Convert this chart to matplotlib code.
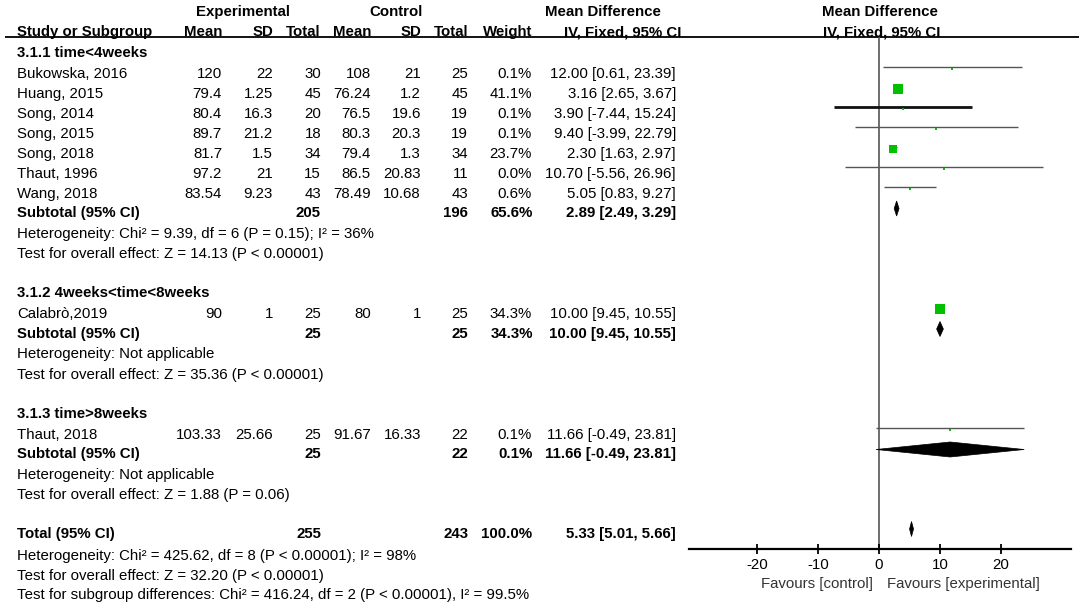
import matplotlib
matplotlib.use("Agg")
import matplotlib.pyplot as plt
import numpy as np

plt.rcParams['font.family'] = ['Liberation Sans', 'DejaVu Sans']

# ---------------- data ----------------
studies = ["Bukowska, 2016", "Huang, 2015", "Song, 2014", "Song, 2015", "Song, 2018",
           "Thaut, 1996", "Wang, 2018", "Calabrò,2019", "Thaut, 2018"]
exp_mean = ["120", "79.4", "80.4", "89.7", "81.7", "97.2", "83.54", "90", "103.33"]
exp_sd = ["22", "1.25", "16.3", "21.2", "1.5", "21", "9.23", "1", "25.66"]
exp_n = [30, 45, 20, 18, 34, 15, 43, 25, 25]
ctl_mean = ["108", "76.24", "76.5", "80.3", "79.4", "86.5", "78.49", "80", "91.67"]
ctl_sd = ["21", "1.2", "19.6", "20.3", "1.3", "20.83", "10.68", "1", "16.33"]
ctl_n = [25, 45, 19, 19, 34, 11, 43, 25, 22]
weight = [0.1, 41.1, 0.1, 0.1, 23.7, 0.0, 0.6, 34.3, 0.1]
md = [12.00, 3.16, 3.90, 9.40, 2.30, 10.70, 5.05, 10.00, 11.66]
ci_lo = [0.61, 2.65, -7.44, -3.99, 1.63, -5.56, 0.83, 9.45, -0.49]
ci_hi = [23.39, 3.67, 15.24, 22.79, 2.97, 26.96, 9.27, 10.55, 23.81]

subgroups = ["3.1.1 time<4weeks", "3.1.2 4weeks<time<8weeks", "3.1.3 time>8weeks"]
sub_exp_n = [205, 25, 25]
sub_ctl_n = [196, 25, 22]
sub_weight = [65.6, 34.3, 0.1]
sub_md = [2.89, 10.00, 11.66]
sub_lo = [2.49, 9.45, -0.49]
sub_hi = [3.29, 10.55, 23.81]
sub_het = ["Heterogeneity: Chi² = 9.39, df = 6 (P = 0.15); I² = 36%",
           "Heterogeneity: Not applicable",
           "Heterogeneity: Not applicable"]
sub_test = ["Test for overall effect: Z = 14.13 (P < 0.00001)",
            "Test for overall effect: Z = 35.36 (P < 0.00001)",
            "Test for overall effect: Z = 1.88 (P = 0.06)"]

total_exp_n = 255
total_ctl_n = 243
total_weight = 100.0
total_md = 5.33
total_lo = 5.01
total_hi = 5.66
total_notes = ["Heterogeneity: Chi² = 425.62, df = 8 (P < 0.00001); I² = 98%",
               "Test for overall effect: Z = 32.20 (P < 0.00001)",
               "Test for subgroup differences: Chi² = 416.24, df = 2 (P < 0.00001), I² = 99.5%"]

x_ticks = [-20, -10, 0, 10, 20]
favours = ["Favours [control]", "Favours [experimental]"]

# ---------------- layout (pixels) ----------------
W, H = 1084, 604
FS = 10.8
study_y = [72.7, 92.7, 112.7, 132.7, 152.7, 172.7, 192.7, 313, 433.5]
group_y = [51.5, 292, 412.5]
sub_y = [212, 332.5, 453]
het_y = [233, 353, 474]
test_y = [253, 373.5, 494]
total_y = 532.5
total_notes_y = [555, 574.5, 593.5]
ci_lw = [1, 1, 2, 1, 1, 1, 1, 1, 1]
ci_col = ['#555555', '#555555', '#111111', '#555555', '#555555', '#555555', '#555555', '#555555', '#555555']
X_NAME, X_EM, X_ESD, X_EN, X_CM, X_CSD, X_CN, X_W, X_CI = 17, 222, 273, 321, 371, 421, 468, 532, 676
GREEN = '#00c000'

fig = plt.figure(figsize=(W / 100, H / 100), dpi=100)
fig.patch.set_facecolor('white')
ax_t = fig.add_axes([0, 0, 1, 1])
ax_t.set_xlim(0, W)
ax_t.set_ylim(H, 0)
ax_t.axis('off')


def put(x, y, s, ha='left', bold=False, color='black'):
    ax_t.text(x, y + 5.4, s, ha=ha, va='baseline', fontsize=FS,
              fontweight='bold' if bold else 'normal', color=color)


# headers
put(243, 10.7, "Experimental", ha='center', bold=True)
put(396, 10.7, "Control", ha='center', bold=True)
put(603, 10.7, "Mean Difference", ha='center', bold=True)
put(880, 10.7, "Mean Difference", ha='center', bold=True)
put(X_NAME, 30.7, "Study or Subgroup", bold=True)
for x, s in [(X_EM, "Mean"), (X_ESD, "SD"), (X_EN, "Total"), (X_CM, "Mean"),
             (X_CSD, "SD"), (X_CN, "Total"), (X_W, "Weight"), (681, "IV, Fixed, 95% CI")]:
    put(x, 30.7, s, ha='right', bold=True)
put(882, 30.7, "IV, Fixed, 95% CI", ha='center', bold=True)
ax_t.plot([5, 1079], [37, 37], color='black', lw=1.3, solid_capstyle='butt')

# subgroup headers
for gy, g in zip(group_y, subgroups):
    put(X_NAME, gy, g, bold=True)

# study rows
for i, s in enumerate(studies):
    y = study_y[i]
    put(X_NAME, y, s)
    put(X_EM, y, exp_mean[i], ha='right')
    put(X_ESD, y, exp_sd[i], ha='right')
    put(X_EN, y, str(exp_n[i]), ha='right')
    put(X_CM, y, ctl_mean[i], ha='right')
    put(X_CSD, y, ctl_sd[i], ha='right')
    put(X_CN, y, str(ctl_n[i]), ha='right')
    put(X_W, y, f"{weight[i]:.1f}%", ha='right')
    put(X_CI, y, f"{md[i]:.2f} [{ci_lo[i]:.2f}, {ci_hi[i]:.2f}]", ha='right')

# subtotal rows
for k in range(3):
    y = sub_y[k]
    put(X_NAME, y, "Subtotal (95% CI)", bold=True)
    put(X_EN, y, str(sub_exp_n[k]), ha='right', bold=True)
    put(X_CN, y, str(sub_ctl_n[k]), ha='right', bold=True)
    put(X_W + 1, y, f"{sub_weight[k]:.1f}%", ha='right', bold=True)
    put(X_CI, y, f"{sub_md[k]:.2f} [{sub_lo[k]:.2f}, {sub_hi[k]:.2f}]", ha='right', bold=True)
    put(X_NAME, het_y[k], sub_het[k])
    put(X_NAME, test_y[k], sub_test[k])

# total
put(X_NAME, total_y, "Total (95% CI)", bold=True)
put(X_EN, total_y, str(total_exp_n), ha='right', bold=True)
put(X_CN, total_y, str(total_ctl_n), ha='right', bold=True)
put(X_W, total_y, f"{total_weight:.1f}%", ha='right', bold=True)
put(X_CI, total_y, f"{total_md:.2f} [{total_lo:.2f}, {total_hi:.2f}]", ha='right', bold=True)
for ny, s in zip(total_notes_y, total_notes):
    put(X_NAME, ny, s)

put(873, 583, favours[0], ha='right', color='#333333')
put(887, 583, favours[1], ha='left', color='#333333')

# ---------------- forest axes ----------------
AX_L, AX_R, AX_T, AX_B = 689, 1071, 37, 549
PX_PER_UNIT = 6.1
X0 = 879
ax_f = fig.add_axes([AX_L / W, 1 - AX_B / H, (AX_R - AX_L) / W, (AX_B - AX_T) / H])
ax_f.set_xlim((AX_L - X0) / PX_PER_UNIT, (AX_R - X0) / PX_PER_UNIT)
ax_f.set_ylim(AX_B, AX_T)
ax_f.patch.set_visible(False)
for side in ['top', 'left', 'right']:
    ax_f.spines[side].set_visible(False)
ax_f.spines['bottom'].set_linewidth(1.6)
ax_f.set_yticks([])
ax_f.set_xticks(x_ticks)
ax_f.set_xticklabels([str(t) for t in x_ticks])
ax_f.tick_params(axis='x', direction='inout', length=7, width=1.3, pad=3,
                 labelsize=FS, colors='black')

ax_f.axvline(0, color='#555555', lw=1.2, zorder=1)

for i in range(len(studies)):
    y = study_y[i]
    ax_f.plot([ci_lo[i], ci_hi[i]], [y - 5.5, y - 5.5], color=ci_col[i], lw=ci_lw[i],
              solid_capstyle='butt', zorder=2)
    side_px = max(1.62 * np.sqrt(weight[i]), 2.5)
    ax_f.plot([md[i]], [y - 4], marker='s', ls='none', ms=side_px * 0.72,
              color=GREEN, mec=GREEN, mew=0, zorder=3)


def diamond(m, lo, hi, y):
    yc = y - 3.5
    h = 7.5
    ax_f.fill([lo, m, hi, m], [yc, yc - h, yc, yc + h], color='black', lw=0.5,
              ec='black', zorder=3)


for k in range(3):
    diamond(sub_md[k], sub_lo[k], sub_hi[k], sub_y[k])
diamond(total_md, total_lo, total_hi, total_y)

fig.savefig("out.png", dpi=100, facecolor='white')
